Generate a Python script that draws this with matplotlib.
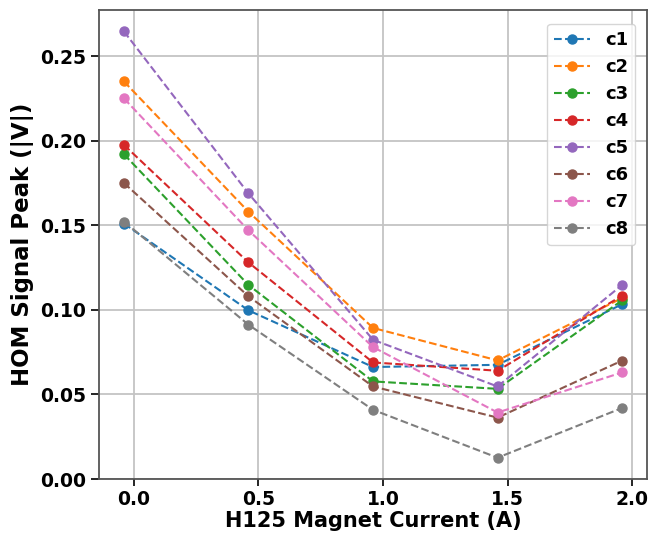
import matplotlib.pyplot as plt

# magnet current settings (A)
current = [-0.04, 0.46, 0.96, 1.46, 1.96]

# HOM signal peak |V| for each coupler
c1 = [0.151, 0.0997, 0.0662, 0.0675, 0.1033]
c2 = [0.235, 0.158, 0.0893, 0.0701, 0.1070]
c3 = [0.192, 0.1147, 0.0577, 0.0533, 0.1056]
c4 = [0.1975, 0.128, 0.0689, 0.0640, 0.1084]
c5 = [0.2646, 0.1688, 0.0823, 0.0547, 0.1147]
c6 = [0.175, 0.108, 0.0547, 0.0363, 0.0700]
c7 = [0.225, 0.147, 0.0780, 0.0393, 0.0630]
c8 = [0.1522, 0.0912, 0.0409, 0.0126, 0.0420]

series = [c1, c2, c3, c4, c5, c6, c7, c8]
labels = ["c1", "c2", "c3", "c4", "c5", "c6", "c7", "c8"]

plt.rcParams['font.family'] = 'DejaVu Sans'
plt.rcParams['font.weight'] = 'bold'

fig = plt.figure(figsize=(6.49, 5.36), dpi=100)
ax = fig.add_axes([0.1525, 0.1063, 0.8445, 0.875])

for vals, lab in zip(series, labels):
    ax.plot(current, vals, ls='--', marker='o', lw=1.5, ms=6.5, label=lab)

ax.set_ylim(bottom=0)
ax.set_xticks([0.0, 0.5, 1.0, 1.5, 2.0])
ax.set_yticks([0.0, 0.05, 0.10, 0.15, 0.20, 0.25])
ax.set_yticklabels(["0.00", "0.05", "0.10", "0.15", "0.20", "0.25"])
ax.tick_params(labelsize=13.5, width=1.2, length=6)
ax.tick_params(axis='x', length=5, pad=3)
for t in ax.get_xticklabels() + ax.get_yticklabels():
    t.set_fontweight('bold')

ax.set_xlabel("H125 Magnet Current (A)", fontsize=15, fontweight='bold',
              labelpad=1)
ax.set_ylabel("HOM Signal Peak (|V|)", fontsize=16.5, fontweight='bold')

ax.grid(True, color='#c4c4c4', lw=1.3)
for s in ax.spines.values():
    s.set_color('#555555')
    s.set_linewidth(1.3)

ax.legend(prop={'size': 13, 'weight': 'bold'}, loc='upper right',
          bbox_to_anchor=(0.995, 0.99))

fig.savefig("out.png", dpi=100)
